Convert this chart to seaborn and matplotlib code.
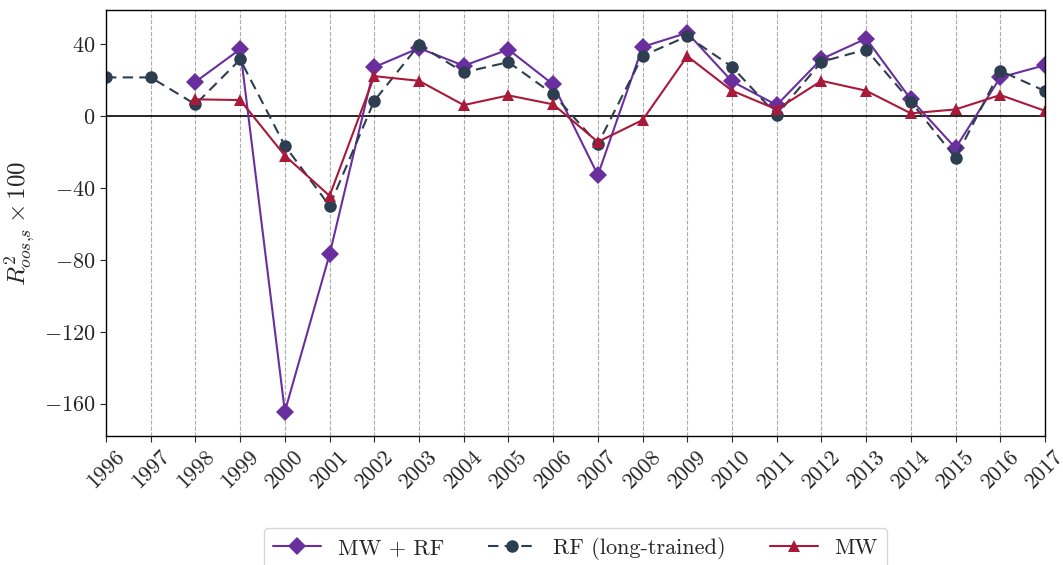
import numpy as np
import pandas as pd
import matplotlib
matplotlib.use("Agg")
import matplotlib.pyplot as plt
import seaborn as sns

years_rf = list(range(1996, 2018))
years_mw = list(range(1998, 2018))

mw_rf = [19.0, 37.2, -164.4, -77.0, 27.2, 37.8, 28.0, 37.0, 17.6, -32.8, 38.5, 46.3,
         19.3, 6.1, 31.7, 43.1, 9.3, -17.8, 21.5, 28.3]
rf_long = [21.5, 21.5, 6.5, 31.5, -16.5, -50.0, 8.5, 39.6, 24.3, 30.0, 12.2, -15.6,
           33.5, 44.4, 27.4, 0.6, 30.2, 37.0, 8.0, -23.3, 25.2, 13.9]
mw = [9.3, 8.9, -22.0, -44.4, 22.2, 19.6, 6.1, 11.5, 6.5, -14.4, -2.2, 33.3,
      14.1, 3.7, 19.6, 14.1, 1.5, 3.7, 11.7, 2.9]

sns.set_style("white")
plt.rcParams["font.family"] = "serif"
plt.rcParams["font.serif"] = ["cmr10", "DejaVu Serif"]
plt.rcParams["mathtext.fontset"] = "cm"
plt.rcParams["axes.formatter.use_mathtext"] = True
plt.rcParams["axes.unicode_minus"] = True

fig = plt.figure(figsize=(10.63, 5.65), dpi=100)
ax = fig.add_axes([106/1063, 1-436/565, (1045-106)/1063, (436-10)/565])

c_mwrf = "#6a2f9e"
c_rf = "#2c3e50"
c_mw = "#a8193a"

sns.lineplot(x=years_mw, y=mw_rf, ax=ax, color=c_mwrf, marker="D", markersize=9,
             markeredgewidth=0, linewidth=1.5, label="MW + RF")
sns.lineplot(x=years_rf, y=rf_long, ax=ax, color=c_rf, marker="o", markersize=9,
             markeredgewidth=0, linewidth=1.5, linestyle=(0, (5, 3)), label="RF (long-trained)")
sns.lineplot(x=years_mw, y=mw, ax=ax, color=c_mw, marker="^", markersize=9,
             markeredgewidth=0, linewidth=1.5, label="MW")

ax.axhline(0, color="black", linewidth=1.2, zorder=1)
ax.set_xlim(1996, 2017)
ax.set_ylim(-178, 59)
ax.set_xticks(years_rf)
ax.set_xticklabels([str(y) for y in years_rf], rotation=45, fontsize=16)
ax.set_yticks([-160, -120, -80, -40, 0, 40])
ax.tick_params(axis="y", labelsize=16, length=4, direction="out", left=True)
ax.tick_params(axis="x", length=4, direction="out", bottom=True)
ax.xaxis.grid(True, linestyle="--", color="#aaaaaa", linewidth=0.8)
ax.yaxis.grid(False)
for s in ax.spines.values():
    s.set_color("black")
    s.set_linewidth(1.0)
ax.set_xlabel("")
ax.set_ylabel(r"$R^2_{oos{,}s}\times 100$", fontsize=18)

ax.legend(loc="upper center", bbox_to_anchor=(0.5, -0.216), borderaxespad=0, ncol=3,
          fontsize=16, frameon=True, handlelength=2.15, handletextpad=0.75,
          columnspacing=2.0, borderpad=0.4)

fig.savefig("out.png", dpi=100)
